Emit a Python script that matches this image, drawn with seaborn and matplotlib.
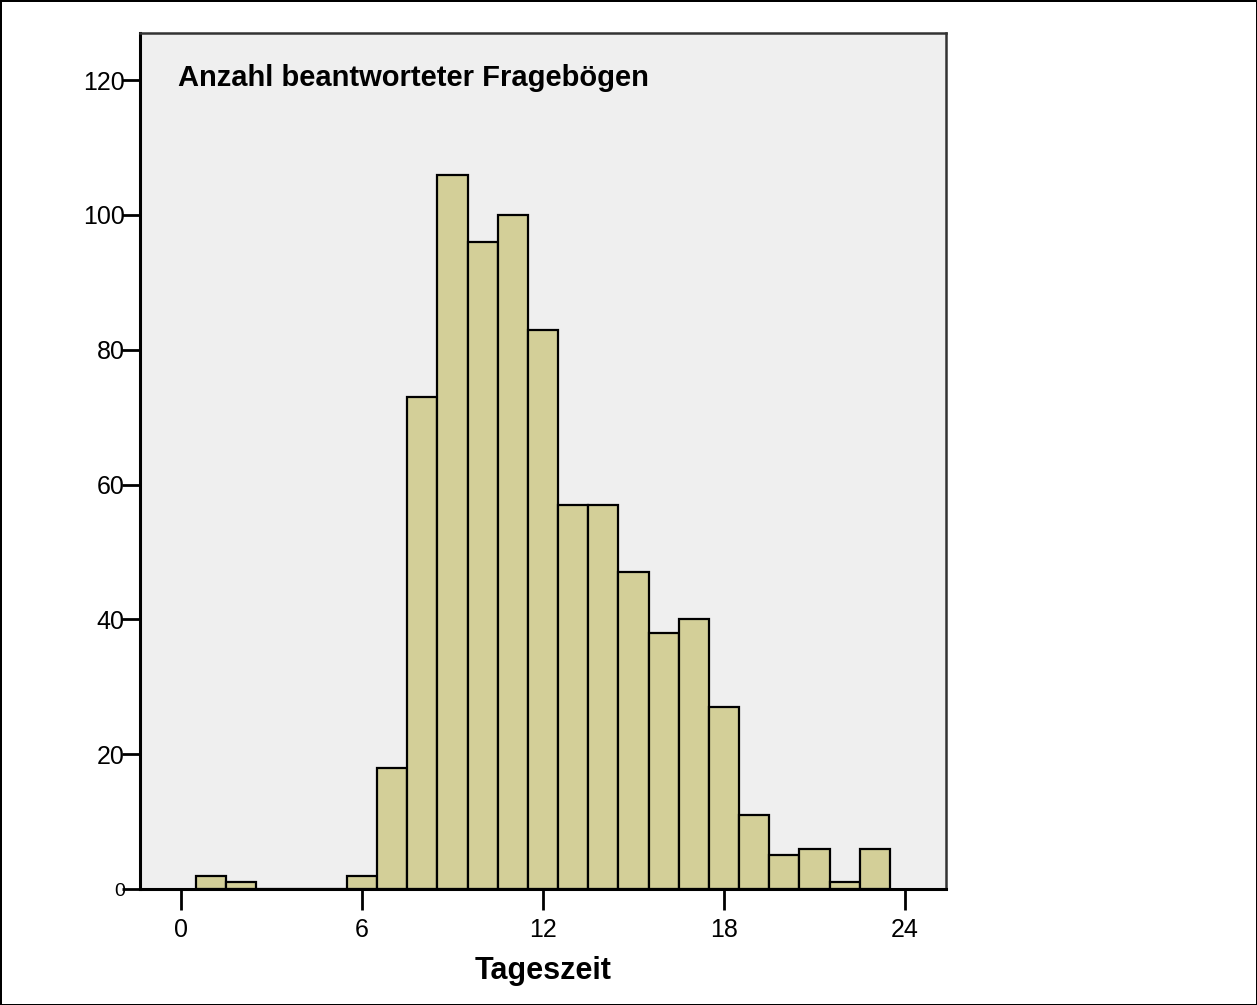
import numpy as np
import pandas as pd
import matplotlib
matplotlib.use("Agg")
import matplotlib.pyplot as plt
import seaborn as sns

# hour of day (bin centres) and number of questionnaires answered
hours = list(range(1, 24))
counts = [2, 1, 0, 0, 0, 2, 18, 73, 106, 96, 100, 83, 57, 57, 47, 38, 40, 27, 11, 5, 6, 1, 6]
x_ticks = [0, 6, 12, 18, 24]
y_ticks = [0, 20, 40, 60, 80, 100, 120]

df = pd.DataFrame({'Tageszeit': hours, 'Anzahl': counts})

sns.set_style('white')
plt.rcParams['font.family'] = ['Liberation Sans', 'DejaVu Sans']
plt.rcParams['text.color'] = 'black'

fig = plt.figure(figsize=(12.57, 10.05), dpi=100)
fig.patch.set_edgecolor('black')
fig.patch.set_linewidth(2)
ax = fig.add_axes([0.1114, 0.1154, 0.6412, 0.8518])
ax.set_facecolor('#EFEFEF')

sns.histplot(data=df, x='Tageszeit', weights='Anzahl', binwidth=1, binrange=(0.5, 23.5),
             color='#D3CF98', edgecolor='black', linewidth=1.6, alpha=1, ax=ax)

ax.set_xlim(-1.36, 25.36)
ax.set_ylim(0, 127)
ax.set_xticks(x_ticks)
ax.set_yticks(y_ticks)
ax.tick_params(axis='both', direction='out', width=2, colors='black',
               labelcolor='black', labelsize=18, bottom=True, left=True)
ax.tick_params(axis='x', length=15, pad=6)
ax.tick_params(axis='y', length=13, pad=-2)
ax.get_yticklabels()[0].set_fontsize(14)

for s in ['left', 'bottom']:
    ax.spines[s].set_linewidth(2.2)
    ax.spines[s].set_color('black')
for s in ['top', 'right']:
    ax.spines[s].set_linewidth(1.8)
    ax.spines[s].set_color('#333333')

ax.set_ylabel('')
ax.set_xlabel('Tageszeit', fontsize=22, fontweight='bold', labelpad=10, color='black')
ax.text(0.047, 0.947, 'Anzahl beantworteter Fragebögen', transform=ax.transAxes,
        fontsize=21, fontweight='bold', va='center', ha='left', color='black')

fig.savefig('out.png', dpi=100, edgecolor=fig.get_edgecolor())
